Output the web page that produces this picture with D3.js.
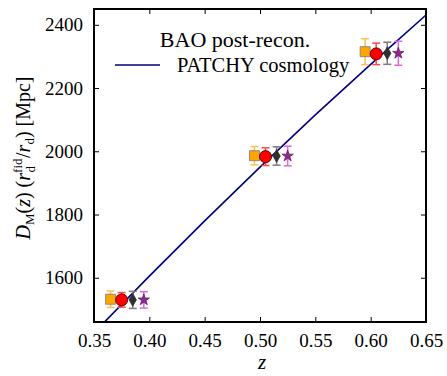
<!DOCTYPE html>
<html>
<head>
<meta charset="utf-8">
<script src="https://cdn.jsdelivr.net/npm/d3@7"></script>
<style>
html,body{margin:0;padding:0;background:#fff;}
svg{display:block;}
text{font-family:"Liberation Serif","Times New Roman",serif;fill:#000;}
</style>
</head>
<body>
<svg id="chart" width="447" height="376"></svg>
<script>
// ---- data ----
const xTicks = [0.35, 0.40, 0.45, 0.50, 0.55, 0.60, 0.65];
const yTicks = [1600, 1800, 2000, 2200, 2400];

const squareZ   = [0.365, 0.495, 0.595];
const squareDM  = [1532, 1986, 2315];
const squareErr = [26, 29, 41];

const circleZ   = [0.375, 0.505, 0.605];
const circleDM  = [1530, 1983, 2308];
const circleErr = [23, 28, 34];

const diamondZ   = [0.385, 0.515, 0.615];
const diamondDM  = [1530, 1985, 2310];
const diamondErr = [27, 29, 35];

const starZ   = [0.395, 0.525, 0.625];
const starDM  = [1530, 1985, 2310];
const starErr = [26, 31, 38];

const lineZ  = [0.35, 0.40, 0.45, 0.50, 0.55, 0.60, 0.65];
const lineDM = [1426, 1605, 1780, 1950, 2115, 2275, 2431];

// ---- layout ----
const svg = d3.select("#chart");
const L = 94, R = 426, T = 9, B = 322;
const x = d3.scaleLinear().domain([0.35, 0.65]).range([L, R]);
const y = d3.scaleLinear().domain([1460, 2450]).range([B, T]);

svg.append("defs").append("clipPath").attr("id","clip")
  .append("rect").attr("x",L).attr("y",T).attr("width",R-L).attr("height",B-T);

// theory line
svg.append("path")
  .datum(lineZ.map((z,i)=>[z,lineDM[i]]))
  .attr("clip-path","url(#clip)")
  .attr("fill","none").attr("stroke","#000080").attr("stroke-width",1.6)
  .attr("d", d3.line().x(d=>x(d[0])).y(d=>y(d[1])));

// series
const series = [
  {z:squareZ, v:squareDM, e:squareErr, sym:d3.symbolSquare, size:100, fill:"#ffa500", stroke:"#7a7a7a", ecol:"#ffbf55"},
  {z:circleZ, v:circleDM, e:circleErr, sym:d3.symbolCircle, size:115, fill:"#ff0000", stroke:"#300000", ecol:"#ff4a4a"},
  {z:diamondZ, v:diamondDM, e:diamondErr, sym:d3.symbolDiamond, size:46, fill:"#2f2f2f", stroke:"#2f2f2f", ecol:"#7d7d7d"},
  {z:starZ, v:starDM, e:starErr, sym:d3.symbolStar, size:40, fill:"#8b2a8b", stroke:"#6a1a6a", ecol:"#e066e0"}
];
series.forEach(s=>{
  const g = svg.append("g");
  const pts = s.z.map((z,i)=>({z:z,v:s.v[i],e:s.e[i]}));
  const eb = g.selectAll("g.eb").data(pts).enter().append("g");
  eb.append("line").attr("x1",d=>x(d.z)).attr("x2",d=>x(d.z))
    .attr("y1",d=>y(d.v-d.e)).attr("y2",d=>y(d.v+d.e))
    .attr("stroke",s.ecol).attr("stroke-width",1.5);
  [-1,1].forEach(sg=>{
    eb.append("line").attr("x1",d=>x(d.z)-4).attr("x2",d=>x(d.z)+4)
      .attr("y1",d=>y(d.v+sg*d.e)).attr("y2",d=>y(d.v+sg*d.e))
      .attr("stroke",s.ecol).attr("stroke-width",1.5);
  });
  g.selectAll("path.m").data(pts).enter().append("path")
    .attr("transform",d=>`translate(${x(d.z)},${y(d.v)})`)
    .attr("d", d3.symbol().type(s.sym).size(s.size))
    .attr("fill",s.fill).attr("stroke",s.stroke).attr("stroke-width",0.8);
});

// axes (inside ticks on all four sides)
const tickLen = 5;
const serif = "Liberation Serif";
const ax = svg.append("g");
ax.append("g").attr("transform",`translate(0,${B})`)
  .call(d3.axisBottom(x).tickValues(xTicks).tickSize(-tickLen).tickPadding(12).tickFormat(d3.format(".2f")))
  .call(g=>{g.select(".domain").remove(); g.selectAll("text").attr("font-size","19px").style("font-family",serif);});
ax.append("g").attr("transform",`translate(0,${T})`)
  .call(d3.axisTop(x).tickValues(xTicks).tickSize(-tickLen).tickFormat(""))
  .call(g=>g.select(".domain").remove());
ax.append("g").attr("transform",`translate(${L},0)`)
  .call(d3.axisLeft(y).tickValues(yTicks).tickSize(-tickLen).tickPadding(11).tickFormat(d3.format("d")))
  .call(g=>{g.select(".domain").remove(); g.selectAll("text").attr("font-size","19px").style("font-family",serif);});
ax.append("g").attr("transform",`translate(${R},0)`)
  .call(d3.axisRight(y).tickValues(yTicks).tickSize(-tickLen).tickFormat(""))
  .call(g=>g.select(".domain").remove());
ax.selectAll(".tick line").attr("stroke","#000").attr("stroke-width",1);

svg.append("rect").attr("x",L).attr("y",T).attr("width",R-L).attr("height",B-T)
  .attr("fill","none").attr("stroke","#000").attr("stroke-width",2);

// axis labels
svg.append("text").attr("x",(L+R)/2 + 2).attr("y",369).attr("text-anchor","middle")
  .attr("font-size","21px").attr("font-style","italic").style("font-family",serif).text("z");

const yl = svg.append("text").attr("transform","translate(30,158) rotate(-90)")
  .attr("text-anchor","middle").attr("font-size","20px").style("font-family",serif);
yl.append("tspan").attr("font-style","italic").text("D");
yl.append("tspan").attr("font-size","13px").attr("dy",4).text("M");
yl.append("tspan").attr("dy",-4).text("(");
yl.append("tspan").attr("font-style","italic").text("z");
yl.append("tspan").text(") (");
yl.append("tspan").attr("font-style","italic").text("r");
yl.append("tspan").attr("font-size","13px").attr("dy",-8).text("fid");
yl.append("tspan").attr("font-size","13px").attr("dx",-14).attr("dy",13).text("d");
yl.append("tspan").attr("dx",8).attr("dy",-5).text("/");
yl.append("tspan").attr("font-style","italic").text("r");
yl.append("tspan").attr("font-size","13px").attr("dy",4).text("d");
yl.append("tspan").attr("dy",-4).text(") [Mpc]");

// legend
svg.append("text").attr("x",235).attr("y",47).attr("text-anchor","middle")
  .attr("font-size","22px").style("font-family",serif).text("BAO post-recon.");
svg.append("line").attr("x1",115).attr("x2",160).attr("y1",65).attr("y2",65)
  .attr("stroke","#000080").attr("stroke-width",1.6);
svg.append("text").attr("x",177).attr("y",72).attr("font-size","20.5px").style("font-family",serif).text("PATCHY cosmology");
</script>
</body>
</html>
